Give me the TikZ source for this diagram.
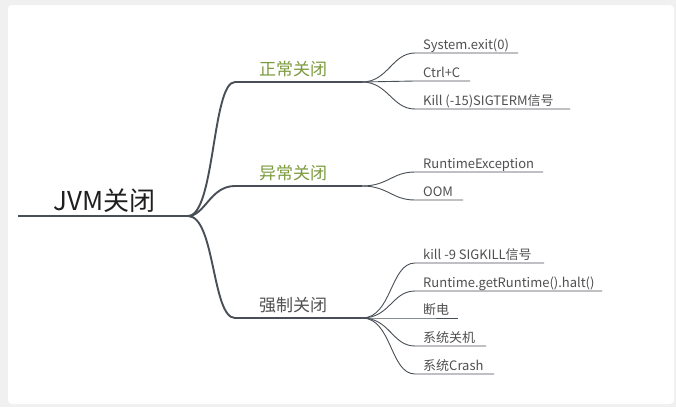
\documentclass[tikz,border=0pt]{standalone}
\usepackage{fontspec}
\setmainfont{Noto Sans CJK SC}
\usepackage{tikz}
\definecolor{cardgray}{RGB}{240,240,240}
\definecolor{linegray}{RGB}{72,79,87}
\definecolor{textgray}{RGB}{80,80,80}
\definecolor{topicgreen}{RGB}{122,154,60}
\tikzset{
  branch/.style={draw=linegray, line width=1.9pt, line cap=round},
  twig/.style={draw=linegray, line width=0.9pt},
  leaf/.style={anchor=base west, inner sep=0pt, text=textgray, font=\fontsize{13}{15}\selectfont},
  topic/.style={anchor=base west, inner sep=0pt, font=\fontsize{17}{20}\selectfont},
}
\begin{document}
\begin{tikzpicture}[x=1pt,y=-1pt]
  %background card
  \fill[cardgray] (0,0) rectangle (676,407);
  \fill[white, rounded corners=4pt] (8,5) rectangle (674,404);

  % Root
  \coordinate (root-s) at (18,216);
  \coordinate (root) at (188,216);
  \draw[linegray, line width=1.3pt] (root-s) -- (root);
  \node[anchor=base west, inner sep=0pt, text=black!88, font=\fontsize{26}{30}\selectfont] (jvm) at (53,210) {JVM关闭};

  % Topic: normal
  \coordinate (zc-s) at (235,82);
  \coordinate (zc) at (362,82);
  \draw[branch] (root) .. controls (215,216) and (212,82) .. (zc-s) -- (zc);
  \node[topic, text=topicgreen] (zc-t) at (259,75) {正常关闭};
  % Topic: abnormal
  \coordinate (yc-s) at (235,186);
  \coordinate (yc) at (362,186);
  \draw[branch] (root) .. controls (205,216) and (210,186) .. (yc-s) -- (yc);
  \node[topic, text=topicgreen] (yc-t) at (259,179) {异常关闭};
  % Topic: forced
  \coordinate (qz-s) at (235,318);
  \coordinate (qz) at (362,318);
  \draw[branch] (root) .. controls (215,216) and (212,318) .. (qz-s) -- (qz);
  \node[topic, text=textgray] (qz-t) at (259,311) {强制关闭};

  % Leaves of normal
  \coordinate (zc1) at (415,53);  \coordinate (zc1-e) at (518,53);
  \coordinate (zc2) at (415,81);  \coordinate (zc2-e) at (470,81);
  \coordinate (zc3) at (415,109); \coordinate (zc3-e) at (570,109);
  \draw[twig] (zc) .. controls (388,82) and (392,53) .. (zc1) -- (zc1-e);
  \draw[twig] (zc) -- (zc2) -- (zc2-e);
  \draw[twig] (zc) .. controls (388,82) and (392,109) .. (zc3) -- (zc3-e);
  \node[leaf] (zc1-t) at (423,49.5) {System.exit(0)};
  \node[leaf] (zc2-t) at (423,77.5) {Ctrl+C};
  \node[leaf] (zc3-t) at (423,105.5) {Kill (-15)SIGTERM信号};

  % Leaves of abnormal
  \coordinate (yc1) at (415,172); \coordinate (yc1-e) at (543,172);
  \coordinate (yc2) at (415,200); \coordinate (yc2-e) at (463,200);
  \draw[twig] (yc) .. controls (388,186) and (392,172) .. (yc1) -- (yc1-e);
  \draw[twig] (yc) .. controls (388,186) and (392,200) .. (yc2) -- (yc2-e);
  \node[leaf] (yc1-t) at (423,168.5) {RuntimeException};
  \node[leaf] (yc2-t) at (423,196.5) {OOM};

  % Leaves of forced
  \coordinate (qz1) at (415,263); \coordinate (qz1-e) at (544,263);
  \coordinate (qz2) at (415,291); \coordinate (qz2-e) at (602,291);
  \coordinate (qz3) at (415,318); \coordinate (qz3-e) at (458,318);
  \coordinate (qz4) at (415,346); \coordinate (qz4-e) at (486,346);
  \coordinate (qz5) at (415,374); \coordinate (qz5-e) at (494,374);
  \draw[twig] (qz) .. controls (392,318) and (390,263) .. (qz1) -- (qz1-e);
  \draw[twig] (qz) .. controls (390,318) and (392,291) .. (qz2) -- (qz2-e);
  \draw[twig] (qz) -- (qz3) -- (qz3-e);
  \draw[twig] (qz) .. controls (390,318) and (392,346) .. (qz4) -- (qz4-e);
  \draw[twig] (qz) .. controls (392,318) and (390,374) .. (qz5) -- (qz5-e);
  \node[leaf] (qz1-t) at (423,259.5) {kill -9 SIGKILL信号};
  \node[leaf] (qz2-t) at (423,287.5) {Runtime.getRuntime().halt()};
  \node[leaf] (qz3-t) at (423,314.5) {断电};
  \node[leaf] (qz4-t) at (423,342.5) {系统关机};
  \node[leaf] (qz5-t) at (423,370.5) {系统Crash};
\end{tikzpicture}
\end{document}
